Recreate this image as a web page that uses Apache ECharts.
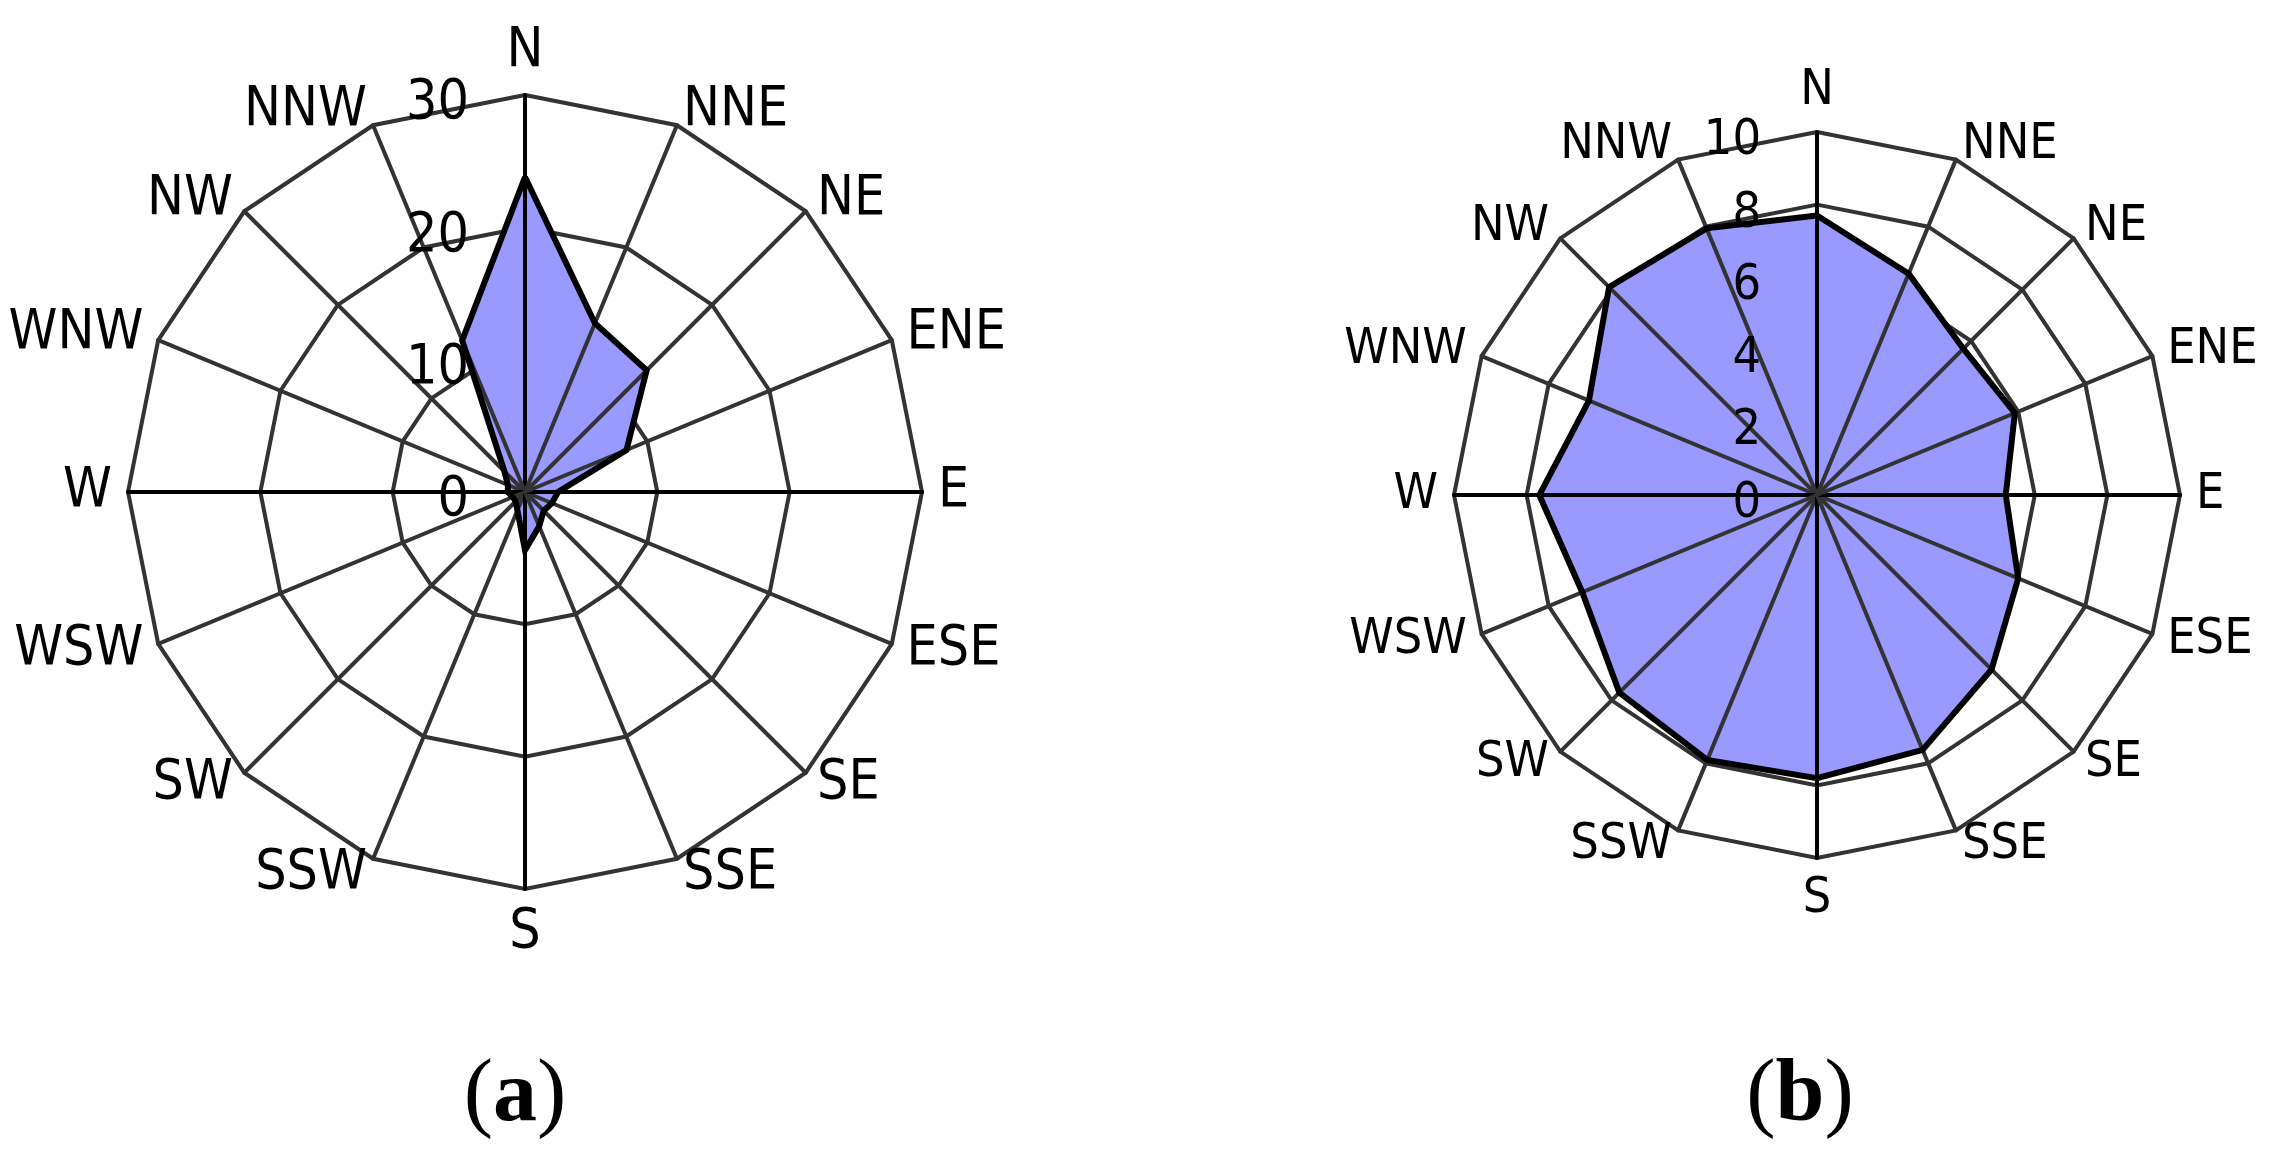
<!DOCTYPE html>
<html>
<head>
<meta charset="utf-8">
<title>Wind roses (a) and (b)</title>
<script src="https://cdn.jsdelivr.net/npm/echarts@6/dist/echarts.min.js"></script>
<style>
  html, body { margin: 0; padding: 0; background: #fff; }
  #main { width: 2289px; height: 1165px; }
</style>
</head>
<body>
<div id="main"></div>
<script>
// compass directions, clockwise from north
const directions = ['N', 'NNE', 'NE', 'ENE', 'E', 'ESE', 'SE', 'SSE', 'S', 'SSW', 'SW', 'WSW', 'W', 'WNW', 'NW', 'NNW'];
// panel (a): frequency per direction (same order as directions)
const valuesA = [23.8, 13.8, 13.0, 8.3, 2.5, 2.2, 2.0, 2.8, 4.4, 1.5, 1.0, 1.0, 1.3, 1.4, 2.2, 12.4];
// panel (b)
const valuesB = [7.7, 6.6, 5.7, 5.9, 5.2, 6.0, 6.8, 7.6, 7.8, 7.9, 7.7, 7.0, 7.65, 6.8, 8.1, 7.95];
const maxA = 30, maxB = 10;
const captions = ['a', 'b'];

const font = "'Liberation Sans Narrow', 'DejaVu Sans Condensed', 'Liberation Sans', sans-serif";

// echarts radar runs counter-clockwise, the compass runs clockwise
function ccw(arr) {
  return arr.map((_, i) => arr[(16 - i) % 16]);
}

const panels = [
  {center: [525, 492], radius: 397, max: maxA, split: 3, size: 55, values: valuesA, capX: 515},
  {center: [1817, 495], radius: 363, max: maxB, split: 5, size: 50, values: valuesB, capX: 1800}
];

const gridLine = {color: '#333', width: 4};

const radars = [];
const series = [];

panels.forEach((p) => {
  // back layer: rings + direction names
  radars.push({
    center: p.center,
    radius: p.radius,
    startAngle: 90,
    shape: 'polygon',
    splitNumber: p.split,
    indicator: ccw(directions).map((d) => ({name: d, min: 0, max: p.max})),
    axisName: {color: '#000', fontSize: p.size, fontFamily: font},
    nameGap: 16,
    splitLine: {lineStyle: gridLine},
    splitArea: {show: false},
    axisLine: {show: false},
    axisTick: {show: false},
    axisLabel: {show: false},
    z: 0
  });
  // front layer: spokes + ring values on the north axis
  radars.push({
    center: p.center,
    radius: p.radius,
    startAngle: 90,
    shape: 'polygon',
    splitNumber: p.split,
    indicator: ccw(directions).map((d, i) => {
      const ind = {name: d, min: 0, max: p.max};
      if (i === 0) ind.axisLabel = {show: true};
      if (d.length === 1) ind.axisLine = {lineStyle: {color: '#000', width: 4}};
      return ind;
    }),
    axisName: {show: false},
    splitLine: {show: false},
    splitArea: {show: false},
    axisLine: {lineStyle: gridLine},
    axisTick: {show: false},
    axisLabel: {
      show: false,
      color: '#000',
      fontSize: p.size,
      fontFamily: font,
      margin: 56,
      verticalAlign: 'top',
      lineHeight: 18
    },
    z: 5
  });
  const idx = radars.length - 2;
  // filled area (under the spokes)
  series.push({
    type: 'radar',
    radarIndex: idx,
    symbol: 'none',
    z: 2,
    lineStyle: {width: 0, opacity: 0},
    areaStyle: {color: '#9999ff', opacity: 1},
    data: [{value: ccw(p.values)}]
  });
  // black outline on top
  series.push({
    type: 'radar',
    radarIndex: idx,
    symbol: 'none',
    z: 6,
    lineStyle: {color: '#000', width: 6, join: 'miter'},
    data: [{value: ccw(p.values)}]
  });
});

const chart = echarts.init(document.getElementById('main'));
chart.setOption({
  backgroundColor: '#fff',
  animation: false,
  radar: radars,
  series: series,
  graphic: panels.map((p, i) => ({
    type: 'text',
    x: p.capX,
    y: 1097,
    style: {
      text: '{p|(}{b|' + captions[i] + '}{p|)}',
      align: 'center',
      verticalAlign: 'middle',
      rich: {
        p: {fontFamily: "'Liberation Serif', serif", fontSize: 88, fill: '#000'},
        b: {fontFamily: "'Liberation Serif', serif", fontSize: 88, fontWeight: 'bold', fill: '#000'}
      }
    }
  }))
});
</script>
</body>
</html>
